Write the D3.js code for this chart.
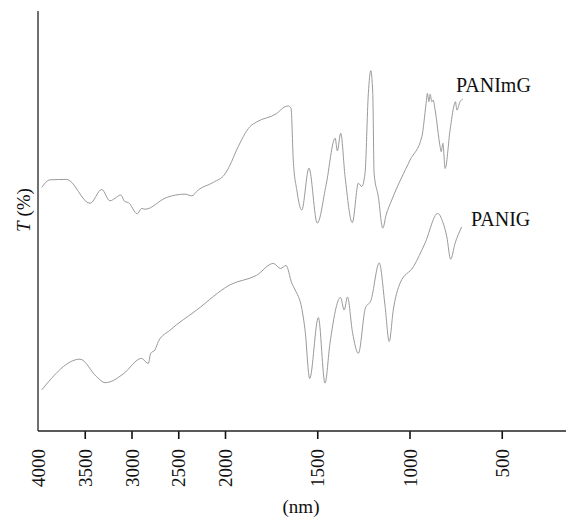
<!DOCTYPE html>
<html>
<head>
<meta charset="utf-8">
<script src="https://cdn.jsdelivr.net/npm/d3@7"></script>
<style>
  html, body { margin: 0; padding: 0; background: #fff; }
  svg { display: block; }
</style>
</head>
<body>
<svg id="chart" width="566" height="519"></svg>
<script>
// ---- data (wavenumber, transmittance in arbitrary %) ----
const panimgWn = [3960,3872,3693,3444,3319,3230,3176,3116,3070,3034,2938,2891,2856,2624,2428,2356,2286,2125,2000,1973,1937,1864,1828,1720,1675,1657,1642,1630,1611,1584,1545,1500,1452,1403,1391,1373,1349,1310,1277,1259,1241,1223,1210,1199,1192,1169,1145,1127,1096,997,933,910,903,895,888,879,872,861,834,828,819,807,780,758,751,743,726,711];
const panimgT  = [58.0,59.8,59.9,54.2,57.5,54.8,55.4,56.2,54.6,54.4,51.7,53.0,52.8,55.6,56.4,56.0,57.4,59.2,61.2,63.3,66.9,72.5,73.6,75.6,77.2,77.4,76.8,64.5,57.4,52.6,62.6,49.5,58.6,69.7,66.7,70.9,60.5,49.6,59.0,58.2,61.4,80.4,85.8,80.4,61.4,55.8,48.3,51.4,55.0,64.5,70.1,78.0,80.4,78.4,80.2,78.4,78.8,76.4,67.7,66.5,68.5,62.5,71.7,77.6,78.4,76.4,78.4,79.0];

const panigWn = [3960,3551,3372,3283,3230,3088,2891,2845,2820,2795,2749,2713,2588,2303,1973,1828,1738,1699,1669,1638,1620,1584,1566,1541,1494,1458,1431,1374,1354,1336,1309,1277,1239,1209,1164,1133,1110,1088,1051,979,916,847,820,798,777,753,717];
const panigT  = [9.8,17.1,12.9,11.5,11.7,13.6,17.3,16.4,16.1,18.5,19.3,21.3,24.0,28.8,34.8,37.1,39.9,38.7,39.4,35.2,33.6,29.2,24.0,12.5,27.0,11.4,20.9,31.8,28.8,31.9,23.5,18.5,29.3,31.1,40.0,30.0,21.3,28.8,35.2,39.1,44.7,51.8,49.8,46.3,40.9,44.7,48.6];

const seriesNames = ["PANImG", "PANIG"];
const xTicks = [4000,3500,3000,2500,2000,1500,1000,500];
const xTitle = "(nm)";
const yTitleItalic = "T";
const yTitleRest = " (%)";

// ---- layout ----
const svg = d3.select("#chart");
const padL = 38, padR = 566, padT = 11, padB = 431;
const font = "'Liberation Serif', 'Times New Roman', serif";

// piecewise wavenumber scale (compressed above 2000)
const x = d3.scaleLinear().domain([4000, 2000, 0]).range([38, 225, 594]);
const y = d3.scaleLinear().domain([0, 100]).range([padB, padT]);

const line = d3.line()
  .x(d => x(d[0]))
  .y(d => y(d[1]))
  .curve(d3.curveMonotoneX);

const s1 = panimgWn.map((w, i) => [w, panimgT[i]]);
const s2 = panigWn.map((w, i) => [w, panigT[i]]);

svg.append("path").datum(s1).attr("d", line)
  .attr("fill", "none").attr("stroke", "#9a9a9a").attr("stroke-width", 1);
svg.append("path").datum(s2).attr("d", line)
  .attr("fill", "none").attr("stroke", "#9a9a9a").attr("stroke-width", 1);

// axes
const gx = svg.append("g").attr("transform", `translate(0,${padB})`);
gx.call(d3.axisBottom(x).tickValues(xTicks).tickSize(8).tickSizeOuter(0).tickFormat(d => d));
gx.select(".domain").remove();
gx.selectAll(".tick line").attr("stroke", "#111").attr("stroke-width", 1.6)
  .filter(d => d === 4000).remove();
gx.selectAll(".tick text")
  .attr("transform", "rotate(-90)")
  .attr("x", -18).attr("y", 0).attr("dy", "0.35em")
  .attr("text-anchor", "end")
  .attr("font-family", font).attr("font-size", 19).attr("fill", "#111");

svg.append("line").attr("x1", padL).attr("x2", padR).attr("y1", padB).attr("y2", padB)
  .attr("stroke", "#222").attr("stroke-width", 1.3);
svg.append("line").attr("x1", padL).attr("x2", padL).attr("y1", padT).attr("y2", padB)
  .attr("stroke", "#222").attr("stroke-width", 1.3);

// titles
svg.append("text").attr("x", 301).attr("y", 513).attr("text-anchor", "middle")
  .attr("font-family", font).attr("font-size", 19).attr("fill", "#111").text(xTitle);

const yt = svg.append("text").attr("transform", "translate(30,210) rotate(-90)")
  .attr("text-anchor", "middle").attr("font-family", font).attr("font-size", 19).attr("fill", "#111");
yt.append("tspan").attr("font-style", "italic").text(yTitleItalic);
yt.append("tspan").text(yTitleRest);

// series labels
svg.append("text").attr("x", 456).attr("y", 92)
  .attr("font-family", font).attr("font-size", 20).attr("fill", "#111").text(seriesNames[0]);
svg.append("text").attr("x", 471).attr("y", 226)
  .attr("font-family", font).attr("font-size", 20).attr("fill", "#111").text(seriesNames[1]);
</script>
</body>
</html>
